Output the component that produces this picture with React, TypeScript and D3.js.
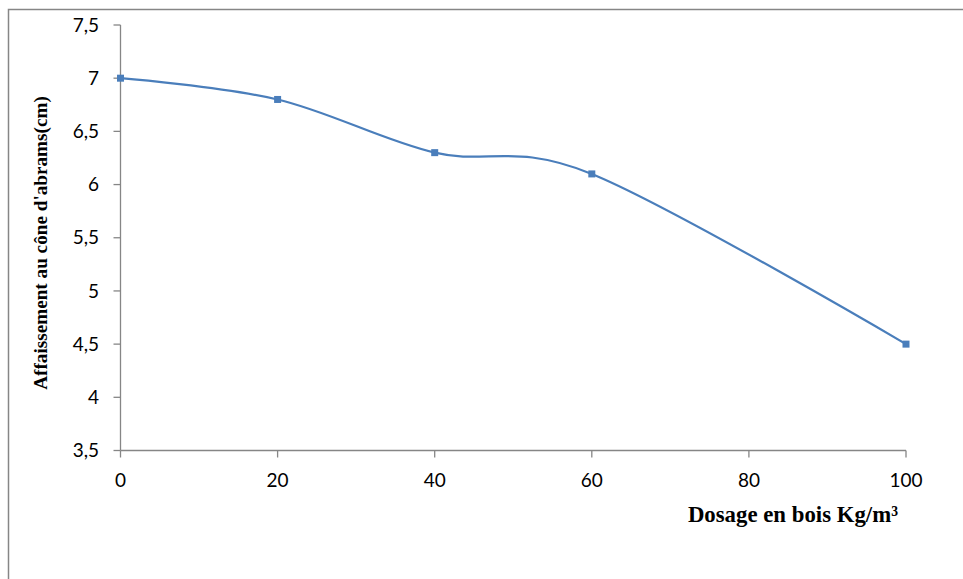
import React from "react";
import * as d3 from "d3";

const dosage = [0, 20, 40, 60, 100];
const affaissement = [7, 6.8, 6.3, 6.1, 4.5];
const xTicks = [0, 20, 40, 60, 80, 100];
const yTicks = [3.5, 4, 4.5, 5, 5.5, 6, 6.5, 7, 7.5];
const xTitle = "Dosage en bois Kg/m³";
const yTitle = "Affaissement au cône d'abrams(cm)";

const W = 963;
const H = 579;
const fmt = (v: number) => String(v).replace(".", ",");

export default function App() {
  const x = d3.scaleLinear().domain([0, 100]).range([120.5, 906]);
  const y = d3.scaleLinear().domain([3.5, 7.5]).range([450.5, 25]);
  const pts: [number, number][] = dosage.map((d, i) => [x(d), y(affaissement[i])]);
  const line = d3.line().curve(d3.curveCardinal.tension(0))(pts) || "";
  const axisColor = "#868686";
  const blue = "#4a7ebb";
  const tickFont = "Lato, 'Open Sans', sans-serif";
  return (
    <svg
      width={W}
      height={H}
      style={{ position: "absolute", left: 0, top: 0, background: "#fff" }}
    >
      <rect x={8.5} y={9.5} width={980} height={600} fill="#fff" stroke={axisColor} strokeWidth={1.5} />
      {/* y axis */}
      <line x1={x(0)} x2={x(0)} y1={y(7.5)} y2={y(3.5)} stroke={axisColor} strokeWidth={1.3} />
      {yTicks.map((t) => (
        <g key={"y" + t}>
          <line x1={x(0) - 7} x2={x(0)} y1={y(t)} y2={y(t)} stroke={axisColor} strokeWidth={1.3} />
          <text
            x={99}
            y={y(t)}
            dy="0.35em"
            textAnchor="end"
            fontFamily={tickFont}
            fontSize={19}
            fill="#000"
          >
            {fmt(t)}
          </text>
        </g>
      ))}
      {/* x axis */}
      <line x1={x(0)} x2={x(100)} y1={y(3.5)} y2={y(3.5)} stroke={axisColor} strokeWidth={1.3} />
      {xTicks.map((t) => (
        <g key={"x" + t}>
          <line x1={x(t)} x2={x(t)} y1={y(3.5)} y2={y(3.5) + 7} stroke={axisColor} strokeWidth={1.3} />
          <text
            x={x(t)}
            y={487}
            textAnchor="middle"
            fontFamily={tickFont}
            fontSize={19}
            fill="#000"
          >
            {fmt(t)}
          </text>
        </g>
      ))}
      <path d={line} fill="none" stroke={blue} strokeWidth={2.2} />
      {pts.map((p, i) => (
        <rect key={"m" + i} x={p[0] - 3.5} y={p[1] - 3.5} width={7} height={7} fill={blue} />
      ))}
      <text
        x={898}
        y={522}
        textAnchor="end"
        fontFamily="'Liberation Serif', 'Times New Roman', serif"
        fontWeight="bold"
        fontSize={22.8}
        fill="#000"
      >
        {xTitle}
      </text>
      <text
        transform={`translate(47,243) rotate(-90)`}
        textAnchor="middle"
        fontFamily="'Liberation Serif', 'Times New Roman', serif"
        fontWeight="bold"
        fontSize={19.2}
        fill="#000"
      >
        {yTitle}
      </text>
    </svg>
  );
}
